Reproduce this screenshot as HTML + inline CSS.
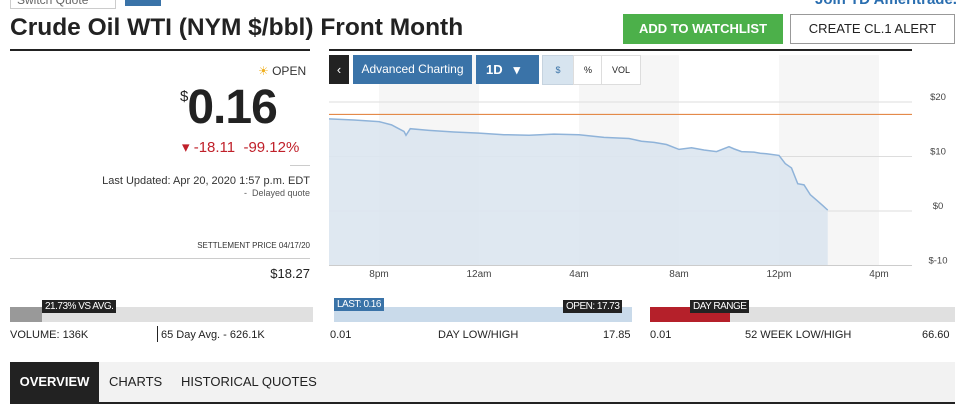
<!DOCTYPE html>
<html><head><meta charset="utf-8">
<style>
body{margin:0;width:967px;height:407px;overflow:hidden;background:#fff;font-family:"Liberation Sans",sans-serif;color:#222;position:relative}
.a{position:absolute}
.tip{position:absolute;background:#222;color:#fff;font-size:10px;height:13px;line-height:13px;padding:0 3px;letter-spacing:-0.5px}
.lbl{position:absolute;font-size:11px;color:#222}
</style></head><body>
<div class="a" style="left:10px;top:-8px;width:98px;height:15px;border:1px solid #ccc;font-size:12px;color:#666;padding-left:6px">Switch Quote</div>
<div class="a" style="left:125px;top:-6px;width:36px;height:12px;background:#3a73a8"></div>
<div class="a" style="left:815px;top:-9px;font-size:15px;font-weight:bold;color:#2a6eb0">Join TD Ameritrade.</div>
<div class="a" style="left:10px;top:14px;font-size:24.5px;font-weight:bold;color:#222">Crude Oil WTI (NYM $/bbl) Front Month</div>
<div class="a" style="left:623px;top:14px;width:160px;height:30px;background:#4cb04a;color:#fff;font-size:13px;font-weight:bold;text-align:center;line-height:30px">ADD TO WATCHLIST</div>
<div class="a" style="left:790px;top:14px;width:163px;height:28px;border:1px solid #999;color:#222;font-size:13px;text-align:center;line-height:28px">CREATE CL.1 ALERT</div>
<div class="a" style="left:10px;top:49px;width:300px;height:2px;background:#222"></div>
<div class="a" style="left:329px;top:49px;width:583px;height:2px;background:#222"></div>

<div class="a" style="left:258px;top:64px;font-size:12px;color:#333"><span style="color:#f0b020">☀</span> OPEN</div>
<div class="a" style="left:180px;top:80px;font-size:48px;font-weight:bold;color:#222;letter-spacing:-1px"><sup style="font-size:15px;font-weight:normal;vertical-align:top;position:relative;top:8px">$</sup>0.16</div>
<div class="a" style="left:182px;top:138px;font-size:15px;color:#c0202a">▾ -18.11 &nbsp;-99.12%</div>
<div class="a" style="left:290px;top:165px;width:20px;height:1px;background:#ccc"></div>
<div class="a" style="right:657px;top:175px;font-size:11px;color:#333;white-space:nowrap">Last Updated: Apr 20, 2020 1:57 p.m. EDT</div>
<div class="a" style="right:657px;top:188px;font-size:9px;color:#555">-&nbsp; Delayed quote</div>
<div class="a" style="right:657px;top:241px;font-size:8px;color:#333">SETTLEMENT PRICE 04/17/20</div>
<div class="a" style="left:10px;top:258px;width:300px;height:1px;background:#ccc"></div>
<div class="a" style="right:657px;top:266px;font-size:13px;color:#222">$18.27</div>

<svg class="a" style="left:0;top:0" width="967" height="300">
<g id="bands"></g><g id="grid"></g><g id="series"></g><g id="axes"></g>
</svg>

<div class="a" style="left:329px;top:55px;width:20px;height:29px;background:#222;color:#fff;text-align:center;line-height:29px;font-size:13px">‹</div>
<div class="a" style="left:353px;top:55px;width:119px;height:29px;background:#3a73a8;color:#fff;font-size:12px;text-align:center;line-height:29px">Advanced Charting</div>
<div class="a" style="left:476px;top:55px;width:63px;height:29px;background:#3a73a8;color:#fff;font-size:13px;font-weight:bold;line-height:29px;padding-left:10px;box-sizing:border-box">1D &nbsp;&nbsp;▾</div>
<div class="a" style="left:542px;top:55px;width:30px;height:28px;background:#d7e4ef;border:1px solid #c6d3df;font-size:9px;text-align:center;line-height:28px;color:#3a73a8">$</div>
<div class="a" style="left:573px;top:55px;width:28px;height:28px;border:1px solid #ddd;background:#fff;font-size:9px;text-align:center;line-height:28px">%</div>
<div class="a" style="left:601px;top:55px;width:38px;height:28px;border:1px solid #ddd;background:#fff;font-size:9px;text-align:center;line-height:28px">VOL</div>

<div class="a" style="left:10px;top:307px;width:303px;height:15px;background:#e0e0e0"></div>
<div class="a" style="left:10px;top:307px;width:32px;height:15px;background:#999"></div>
<div class="tip" style="left:42px;top:300px">21.73% VS AVG.</div>
<div class="lbl" style="left:10px;top:329px">VOLUME: 136K</div>
<div class="a" style="left:157px;top:326px;width:1px;height:16px;background:#222"></div>
<div class="lbl" style="left:161px;top:329px">65 Day Avg. - 626.1K</div>

<div class="a" style="left:334px;top:307px;width:298px;height:15px;background:#c9daea"></div>
<div class="tip" style="left:334px;top:298px;background:#3a73a8">LAST: 0.16</div>
<div class="tip" style="left:563px;top:300px">OPEN: 17.73</div>
<div class="lbl" style="left:330px;top:329px">0.01</div>
<div class="lbl" style="left:438px;top:329px">DAY LOW/HIGH</div>
<div class="lbl" style="left:603px;top:329px">17.85</div>

<div class="a" style="left:650px;top:307px;width:305px;height:15px;background:#e0e0e0"></div>
<div class="a" style="left:650px;top:307px;width:80px;height:15px;background:#b5202a"></div>
<div class="tip" style="left:690px;top:300px">DAY RANGE</div>
<div class="lbl" style="left:650px;top:329px">0.01</div>
<div class="lbl" style="left:745px;top:329px">52 WEEK LOW/HIGH</div>
<div class="lbl" style="left:922px;top:329px">66.60</div>

<div class="a" style="left:10px;top:362px;width:945px;height:40px;background:#f2f2f2;border-bottom:2px solid #222"></div>
<div class="a" style="left:10px;top:362px;width:89px;height:40px;background:#222;color:#fff;font-size:13px;font-weight:bold;text-align:center;line-height:40px">OVERVIEW</div>
<div class="a" style="left:109px;top:362px;height:40px;font-size:13px;line-height:40px;color:#222">CHARTS</div>
<div class="a" style="left:181px;top:362px;height:40px;font-size:13px;line-height:40px;color:#222">HISTORICAL QUOTES</div>

<script>
const hours = [0,1,2,2.5,3,3.08,3.25,4,5,6,7,8,9,10,11,12,12.5,13,13.5,14,14.5,15,15.5,16,16.2,16.5,17,17.25,17.5,18,18.25,18.5,18.75,19,19.25,19.5,19.75,19.95];
const prices = [16.9,16.7,16.4,15.8,14.6,13.9,15.1,14.8,14.5,14.3,14.0,13.9,14.1,14.0,13.5,13.3,12.8,12.6,12.2,11.3,11.6,11.2,10.9,11.8,11.4,10.9,10.8,10.6,10.5,10.2,8.7,7.9,5.0,4.8,3.0,2.0,1.0,0.16];
const yTicks = [20,10,0,-10];
const xTickHours = [2,6,10,14,18,22];
const xTickLabels = ["8pm","12am","4am","8am","12pm","4pm"];
const openPrice = 17.73;
const NS="http://www.w3.org/2000/svg";
const x = h => 329 + h*25;
const y = v => 211 - v*5.45;
function mk(tag, attrs, parent){const e=document.createElementNS(NS,tag);for(const k in attrs)e.setAttribute(k,attrs[k]);document.getElementById(parent).appendChild(e);return e;}
for(let i=0;i<xTickHours.length;i+=2){
  const b=mk('rect',{x:x(xTickHours[i]),y:55,width:100,height:y(-10)-55,fill:'#f6f6f6'},'bands');
  
  
}
yTicks.forEach(v=>{
  const l=mk('line',{x1:329,x2:912,y1:y(v),y2:y(v),stroke:'#ddd','stroke-width':1},'grid');
  
  
  const t=mk('text',{x:938,y:y(v)-2,'text-anchor':'middle','font-size':'9.5','fill':'#444','font-family':'Liberation Sans, sans-serif'},'axes');
  t.textContent=(v<0?'$-'+Math.abs(v):'$'+v);
  
  
});
xTickHours.forEach((h,i)=>{
  const t=mk('text',{x:x(h),y:277,'text-anchor':'middle','font-size':'10','fill':'#444','font-family':'Liberation Sans, sans-serif'},'axes');
  t.textContent=xTickLabels[i];
  
  
});
let d='';hours.forEach((h,i)=>{d+=(i?'L':'M')+x(h)+','+y(prices[i]);});
const area=mk('path',{d:d+'L'+x(hours[hours.length-1])+','+y(-10)+'L'+x(0)+','+y(-10)+'Z',fill:'#dce6ef','fill-opacity':'0.9'},'series');


const line=mk('path',{d:d,fill:'none',stroke:'#8fb3d9','stroke-width':1.5},'series');


const ol=mk('line',{x1:329,x2:912,y1:y(openPrice),y2:y(openPrice),stroke:'#e07a30','stroke-width':1},'series');


const bl=mk('line',{x1:329,x2:912,y1:y(-10),y2:y(-10),stroke:'#ccc','stroke-width':1},'axes');


</script>
</body></html>
